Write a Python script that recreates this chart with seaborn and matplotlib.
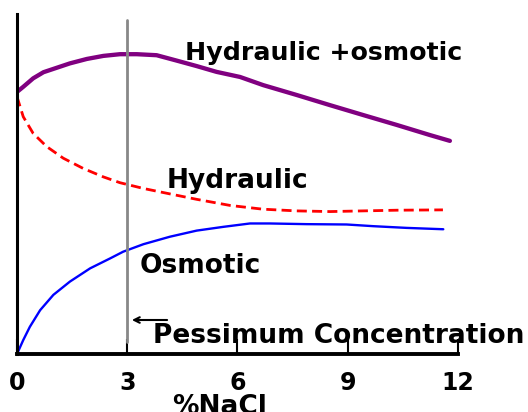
import numpy as np
import pandas as pd
import seaborn as sns
import matplotlib.pyplot as plt

# valores (x = %NaCl, y = escala relativa 0-100)
x_total = [0, 0.17, 0.44, 0.72, 1.08, 1.44, 1.90, 2.35, 2.80, 3.26, 3.80, 4.35, 4.89,
           5.43, 6.07, 6.70, 7.61, 8.52, 9.42, 10.33, 11.24, 11.78]
y_total = [77.1, 78.6, 81.1, 82.9, 84.2, 85.5, 86.8, 87.7, 88.2, 88.2, 87.9, 86.3, 84.7,
           83.0, 81.5, 79.1, 76.2, 73.2, 70.3, 67.4, 64.4, 62.7]

x_hidr = [0, 0.17, 0.44, 0.81, 1.26, 1.80, 2.35, 2.80, 3.44, 4.16, 4.89, 5.80, 6.69,
          7.61, 8.52, 9.41, 10.33, 11.59]
y_hidr = [75.7, 69.8, 64.9, 61.0, 57.6, 54.6, 52.1, 50.4, 48.7, 47.1, 45.5, 43.7, 42.6,
          42.1, 41.9, 42.1, 42.3, 42.4]

x_osm = [0, 0.17, 0.35, 0.63, 0.99, 1.44, 1.99, 2.53, 2.89, 3.44, 4.16, 4.89, 5.61,
         6.34, 6.88, 7.88, 8.97, 9.70, 10.60, 11.60]
y_osm = [0, 4.1, 8.0, 12.9, 17.4, 21.3, 25.2, 28.1, 30.1, 32.3, 34.5, 36.3, 37.4,
         38.4, 38.4, 38.2, 38.1, 37.6, 37.1, 36.7]

pessimo = 3
ticks_x = [0, 3, 6, 9, 12]

sns.set_style('white')
plt.rcParams['font.family'] = ['DejaVu Sans']
plt.rcParams['text.color'] = 'black'

fig = plt.figure(figsize=(5.28, 4.12), dpi=100)
ax = fig.add_axes([0.0322, 0.1408, 0.8352, 0.825])

sns.lineplot(x=x_total, y=y_total, ax=ax, color='#800080', linewidth=3.1, sort=False)
sns.lineplot(x=x_hidr, y=y_hidr, ax=ax, color='#ff0000', linewidth=2.0, sort=False)
ax.lines[-1].set_dashes([3.6, 1.9])
sns.lineplot(x=x_osm, y=y_osm, ax=ax, color='#0000ff', linewidth=1.7, sort=False)

ax.axvline(pessimo, ymin=0.036, ymax=0.982, color='#888888', linewidth=2)

ax.set_xlim(0, 12)
ax.set_ylim(0, 100)
ax.set_xticks(ticks_x)
ax.set_xticklabels([str(t) for t in ticks_x], fontsize=17, fontweight='bold')
ax.set_yticks([])
ax.tick_params(axis='x', direction='in', length=11, width=1.5, pad=12, bottom=True,
               color='black', labelcolor='black')
for s in ['top', 'right']:
    ax.spines[s].set_visible(False)
ax.spines['left'].set_linewidth(2.2)
ax.spines['bottom'].set_linewidth(2.8)
ax.spines['left'].set_color('black')
ax.spines['bottom'].set_color('black')

ax.set_xlabel('%NaCl', fontsize=19, fontweight='bold', color='black')
ax.xaxis.set_label_coords(0.46, -0.117)
ax.set_ylabel('')

kw = dict(fontweight='bold', va='baseline', ha='left', color='black', clip_on=False)
ax.text(4.57, 86.5, 'Hydraulic +osmotic', fontsize=18.2, **kw)
ax.text(4.08, 48.8, 'Hydraulic', fontsize=19, **kw)
ax.text(3.35, 23.8, 'Osmotic', fontsize=19, **kw)
ax.text(3.70, 3.2, 'Pessimum Concentration', fontsize=19, **kw)
ax.annotate('', xy=(pessimo + 0.05, 10), xytext=(4.16, 10),
            arrowprops=dict(arrowstyle='->', color='black', lw=1.5))

fig.savefig('out.png', dpi=100)
